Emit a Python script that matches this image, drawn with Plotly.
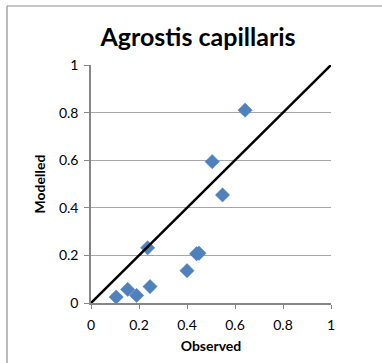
import plotly.graph_objects as go

# Observed vs modelled values for Agrostis capillaris
observed = [0.105, 0.153, 0.19, 0.236, 0.246, 0.40, 0.44, 0.45, 0.505, 0.548, 0.642]
modelled = [0.025, 0.057, 0.032, 0.232, 0.069, 0.136, 0.207, 0.209, 0.594, 0.454, 0.81]

# 1:1 reference line
line_x = [0, 1]
line_y = [0, 1]

tick_vals = [0, 0.2, 0.4, 0.6, 0.8, 1]
tick_text = ["0", "0.2", "0.4", "0.6", "0.8", "1"]

FONT = "Lato, Calibri, Carlito, sans-serif"

fig = go.Figure()
fig.add_trace(go.Scatter(
    x=observed, y=modelled, mode="markers",
    marker=dict(symbol="diamond", size=11, color="#4F81BD",
                line=dict(width=0.5, color="#4A7EBB")),
    hoverinfo="x+y", showlegend=False,
))
fig.add_trace(go.Scatter(
    x=line_x, y=line_y, mode="lines",
    line=dict(color="black", width=2.5),
    hoverinfo="skip", showlegend=False,
))

fig.update_layout(
    width=382, height=363,
    margin=dict(l=91, r=51, t=65, b=60),
    paper_bgcolor="white", plot_bgcolor="white",
    font=dict(family=FONT, color="black", size=14),
    title=dict(text="<b>Agrostis capillaris</b>", x=198 / 382, xanchor="center",
               y=1 - 37 / 363, yanchor="middle",
               font=dict(family=FONT, size=25, color="black")),
    xaxis=dict(range=[0, 1], tickvals=tick_vals, ticktext=tick_text,
               showgrid=False, zeroline=False,
               showline=True, linecolor="#868686", linewidth=1.5,
               ticks="outside", ticklen=4, tickcolor="#868686",
               ticklabelstandoff=4,
               tickfont=dict(size=14),
               title=dict(text="<b>Observed</b>", font=dict(size=14), standoff=10)),
    yaxis=dict(range=[0, 1], tickvals=tick_vals, ticktext=tick_text,
               showgrid=True, gridcolor="#A6A6A6", gridwidth=1.2,
               zeroline=False,
               showline=True, linecolor="#868686", linewidth=1.5,
               ticks="outside", ticklen=5, tickcolor="#868686",
               ticklabelstandoff=3,
               tickfont=dict(size=14),
               title=dict(text="<b>Modelled</b>", font=dict(size=14), standoff=10)),
    shapes=[
        # chart frame: top and left edges
        dict(type="line", xref="paper", yref="paper",
             x0=(7 - 91) / 240, x1=(382 - 91) / 240 + 0.05,
             y0=(303 - 6) / 238, y1=(303 - 6) / 238,
             line=dict(color="#8C8C8C", width=1.2)),
        dict(type="line", xref="paper", yref="paper",
             x0=(7 - 91) / 240, x1=(7 - 91) / 240,
             y0=(303 - 6) / 238, y1=(303 - 370) / 238,
             line=dict(color="#8C8C8C", width=1.2)),
    ],
)

fig.write_html("out.html")
